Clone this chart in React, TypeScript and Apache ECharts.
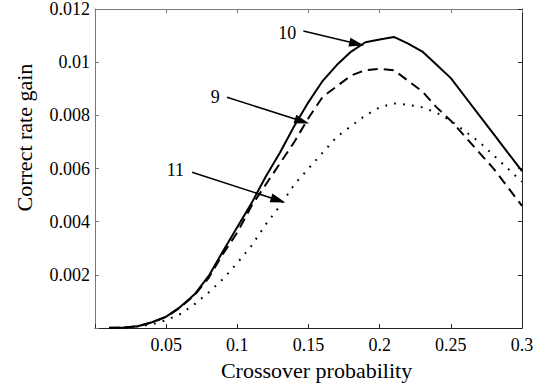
import React, { useEffect, useRef } from "react";
import * as echarts from "echarts";

const crossover = [0.01, 0.02, 0.03, 0.04, 0.05, 0.06, 0.07, 0.08, 0.09, 0.1, 0.11, 0.12, 0.13, 0.14, 0.15, 0.16, 0.17, 0.18, 0.19, 0.2, 0.21, 0.22, 0.23, 0.24, 0.25, 0.26, 0.27, 0.28, 0.29, 0.3];
const gain10 = [0.00001, 0.00002, 0.00007, 0.00022, 0.00043, 0.0008, 0.00127, 0.00197, 0.0029, 0.0038, 0.0047, 0.0057, 0.0066, 0.0076, 0.0085, 0.0093, 0.0099, 0.0104, 0.01075, 0.01085, 0.01095, 0.0107, 0.0104, 0.0099, 0.0094, 0.0087, 0.008, 0.0073, 0.0066, 0.0059];
const gain9 = [0.00001, 0.00002, 0.00007, 0.00021, 0.00042, 0.00078, 0.00124, 0.0019, 0.0028, 0.0036, 0.0046, 0.0054, 0.0062, 0.007, 0.0079, 0.0087, 0.0091, 0.0095, 0.0097, 0.00975, 0.0097, 0.0093, 0.0089, 0.0083, 0.0078, 0.0072, 0.0066, 0.006, 0.0053, 0.0046];
const gain11 = [0, 0.00002, 0.00006, 0.00014, 0.0003, 0.00053, 0.0009, 0.00135, 0.00185, 0.00245, 0.0031, 0.0039, 0.0046, 0.0054, 0.006, 0.0066, 0.0072, 0.0076, 0.008, 0.0083, 0.00845, 0.0084, 0.0083, 0.0081, 0.0078, 0.0074, 0.007, 0.0065, 0.006, 0.0055];

const xTicks = [0, 0.05, 0.1, 0.15, 0.2, 0.25, 0.3];
const yTicks = [0, 0.002, 0.004, 0.006, 0.008, 0.01, 0.012];

// annotation labels, label anchor, arrow start, arrow tip (data units)
const annoLabels = ["10", "9", "11"];
const annoText = [[0.135, 0.0111], [0.0845, 0.0087], [0.0565, 0.00593]];
const annoFrom = [[0.1464, 0.01117], [0.0927, 0.00868], [0.0682, 0.00586]];
const annoTo = [[0.1839, 0.01069], [0.1455, 0.00778], [0.1287, 0.00481]];

const FONT = "Liberation Serif";

export default function App() {
  const ref = useRef<HTMLDivElement>(null);
  useEffect(() => {
    if (!ref.current) return;
    const chart = echarts.init(ref.current, undefined, { renderer: "svg" });
    const mk = (vals: number[]) => crossover.map((x, i) => [x, vals[i]]);
    const anno = (i: number) => ({
      markLine: {
        silent: true,
        animation: false,
        symbol: ["none", "triangle"],
        symbolSize: [9, 15],
        label: { show: false },
        lineStyle: { color: "#000", width: 1.5, type: "solid" },
        data: [[{ coord: annoFrom[i] }, { coord: annoTo[i] }]],
      },
      markPoint: {
        silent: true,
        animation: false,
        symbol: "circle",
        symbolSize: 1,
        itemStyle: { color: "transparent" },
        label: { show: true, position: "inside", color: "#000", fontSize: 18, fontFamily: FONT, formatter: annoLabels[i] },
        data: [{ coord: annoText[i] }],
      },
    });
    const xMin = xTicks[0], xMax = xTicks[xTicks.length - 1];
    const yMin = yTicks[0], yMax = yTicks[yTicks.length - 1];
    chart.setOption({
      animation: false,
      grid: { left: 95, top: 7, right: 16, bottom: 55 },
      xAxis: [
        {
          type: "value", min: xMin, max: xMax, interval: 0.05,
          name: "Crossover probability", nameLocation: "middle", nameGap: 29,
          nameTextStyle: { fontSize: 22, fontFamily: FONT, color: "#000", padding: [0, 0, 0, 16] },
          axisLine: { onZero: false, lineStyle: { color: "#222", width: 1 } },
          axisTick: { inside: true, length: 4, lineStyle: { color: "#222" } },
          axisLabel: { fontSize: 18, fontFamily: FONT, color: "#000", margin: 8, formatter: (v: number) => (v === 0 ? "" : String(+v.toFixed(4))) },
          splitLine: { show: false },
        },
        {
          type: "value", position: "top", min: xMin, max: xMax, interval: 0.05,
          axisLine: { onZero: false, lineStyle: { color: "#777", width: 1 } },
          axisTick: { inside: true, length: 4, lineStyle: { color: "#777" } },
          axisLabel: { show: false },
          splitLine: { show: false },
        },
      ],
      yAxis: [
        {
          type: "value", min: yMin, max: yMax, interval: 0.002,
          name: "Correct rate gain", nameLocation: "middle", nameGap: 60,
          nameTextStyle: { fontSize: 22, fontFamily: FONT, color: "#000", padding: [0, 0, 0, 62] },
          axisLine: { show: true, onZero: false, lineStyle: { color: "#777", width: 1 } },
          axisTick: { show: true, inside: true, length: 4, lineStyle: { color: "#777" } },
          axisLabel: { fontSize: 18, fontFamily: FONT, color: "#000", margin: 5, formatter: (v: number) => (v === 0 ? "" : String(+v.toFixed(4))) },
          splitLine: { show: false },
        },
        {
          type: "value", position: "right", min: yMin, max: yMax, interval: 0.002,
          axisLine: { show: true, onZero: false, lineStyle: { color: "#222", width: 1 } },
          axisTick: { show: true, inside: true, length: 4, lineStyle: { color: "#222" } },
          axisLabel: { show: false },
          splitLine: { show: false },
        },
      ],
      series: [
        {
          name: "10", type: "line", data: mk(gain10), showSymbol: false, symbol: "none",
          lineStyle: { color: "#000", width: 2, type: "solid" }, z: 3, ...anno(0),
        },
        {
          name: "9", type: "line", data: mk(gain9), showSymbol: false, symbol: "none",
          lineStyle: { color: "#000", width: 2, type: [10, 6] }, z: 3, ...anno(1),
        },
        {
          name: "11", type: "line", data: mk(gain11), showSymbol: false, symbol: "none",
          lineStyle: { color: "#000", width: 2, type: [1.8, 7.2] }, z: 3, ...anno(2),
        },
      ],
    });
    return () => chart.dispose();
  }, []);
  return <div ref={ref} style={{ width: 538, height: 386, position: "absolute", left: 0, top: 0, background: "#fff" }} />;
}
